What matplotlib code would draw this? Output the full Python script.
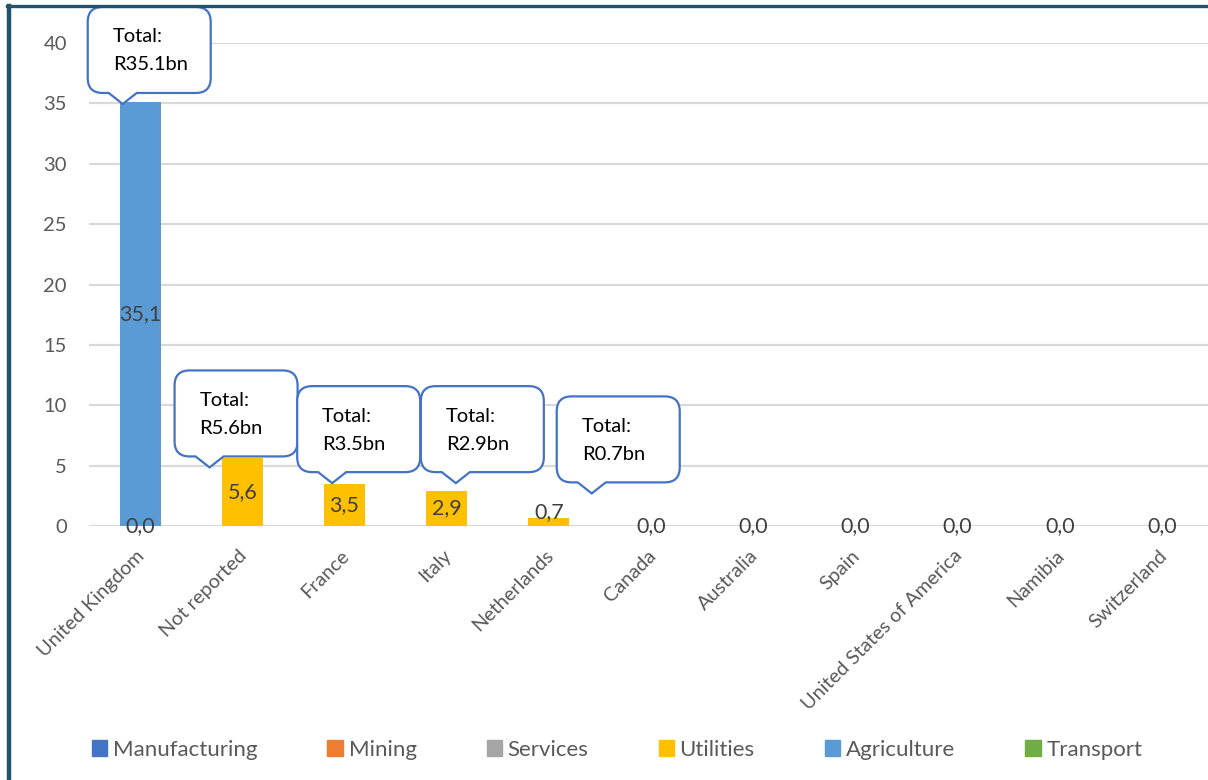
import matplotlib
matplotlib.use("Agg")
import matplotlib.pyplot as plt
import matplotlib.transforms as mtransforms
from matplotlib.path import Path
from matplotlib.patches import PathPatch, Rectangle
import numpy as np

plt.rcParams['font.family'] = ['Lato', 'DejaVu Sans']

countries = ["United Kingdom", "Not reported", "France", "Italy", "Netherlands",
             "Canada", "Australia", "Spain", "United States of America",
             "Namibia", "Switzerland"]
sectors = ["Manufacturing", "Mining", "Services", "Utilities", "Agriculture", "Transport"]
colors = ["#4472C4", "#ED7D31", "#A5A5A5", "#FFC000", "#5B9BD5", "#70AD47"]

manufacturing = [0, 0, 0, 0, 0, 0, 0, 0, 0, 0, 0]
mining = [0, 0, 0, 0, 0, 0, 0, 0, 0, 0, 0]
services = [0, 0, 0, 0, 0, 0, 0, 0, 0, 0, 0]
utilities = [0.0, 5.6, 3.5, 2.9, 0.7, 0.0, 0.0, 0.0, 0.0, 0.0, 0.0]
agriculture = [35.1, 0, 0, 0, 0, 0, 0, 0, 0, 0, 0]
transport = [0, 0, 0, 0, 0, 0, 0, 0, 0, 0, 0]

# callout totals (R bn) for the first five countries
total_idx = [0, 1, 2, 3, 4]
total_text = ["R35.1bn", "R5.6bn", "R3.5bn", "R2.9bn", "R0.7bn"]
# where each callout pointer lands, as offsets from the bar top (category units, value units)
tip_dx = [-0.17, -0.32, -0.12, 0.09, 0.42]
tip_dy = [-0.15, -0.75, 0.05, 0.65, 2.0]

series = [manufacturing, mining, services, utilities, agriculture, transport]

W, H = 1208, 780
fig = plt.figure(figsize=(W / 100, H / 100), dpi=100)
ax = fig.add_axes([89 / W, (H - 526) / H, 1124 / W, 483 / H])

x = np.arange(len(countries))
bottom = np.zeros(len(countries))
for name, vals, c in zip(sectors, series, colors):
    vals = np.array(vals, dtype=float)
    ax.bar(x, vals, 0.4, bottom=bottom, color=c, label=name, zorder=2)
    for i, v in enumerate(vals):
        if v == 0 and name != "Utilities":
            continue
        ypos = bottom[i] + v / 2
        if 0 < v < 1.5:
            ypos = bottom[i] + v + 0.45
        ax.text(i, ypos, f"{v:.1f}".replace(".", ","), ha="center", va="center",
                fontsize=15.5, color="#404040", zorder=4)
    bottom += vals

ax.set_xlim(-0.5, len(countries) - 0.5)
ax.set_ylim(0, 40)
ax.set_yticks(np.arange(0, 41, 5))
ax.yaxis.grid(True, color="#D9D9D9", linewidth=1.6, zorder=0)
ax.set_axisbelow(True)
for s in ax.spines.values():
    s.set_visible(False)
ax.tick_params(axis="y", length=0, pad=16, labelsize=14.5, labelcolor="#595959")
ax.tick_params(axis="x", length=0, pad=15, labelsize=14.3, labelcolor="#595959")
ax.set_xticks(x)
ax.set_xticklabels(countries, rotation=45, ha="right", rotation_mode="anchor")
for lbl in ax.get_xticklabels():
    lbl.set_transform(lbl.get_transform() + mtransforms.Affine2D().translate(-4, 0))

# speech-bubble callouts, drawn in pixels around the pointer tip
bw, bh, gap, left, r = 123, 86, 11, -35, 15
pb0, pb1 = -14, 14
for k, i in enumerate(total_idx):
    tx = i + tip_dx[k]
    ty = bottom[i] + tip_dy[k]
    L, R = left, left + bw
    B, T = gap, gap + bh
    verts = [(pb0, B), (L + r, B), (L, B), (L, B + r), (L, T - r), (L, T), (L + r, T),
             (R - r, T), (R, T), (R, T - r), (R, B + r), (R, B), (R - r, B),
             (pb1, B), (0, 0), (pb0, B)]
    codes = [Path.MOVETO, Path.LINETO, Path.CURVE3, Path.CURVE3, Path.LINETO,
             Path.CURVE3, Path.CURVE3, Path.LINETO, Path.CURVE3, Path.CURVE3,
             Path.LINETO, Path.CURVE3, Path.CURVE3, Path.LINETO, Path.LINETO,
             Path.CLOSEPOLY]
    trans = mtransforms.Affine2D() + mtransforms.ScaledTranslation(tx, ty, ax.transData)
    ax.add_patch(PathPatch(Path(verts, codes), transform=trans, facecolor="white",
                           edgecolor="#4472C4", linewidth=1.6, clip_on=False, zorder=5))
    ax.text(L + 25, T - 30, "Total:", transform=trans, ha="left", va="center",
            fontsize=14.5, color="#000000", zorder=6, clip_on=False)
    ax.text(L + 25, T - 58, total_text[k], transform=trans, ha="left", va="center",
            fontsize=14.5, color="#000000", zorder=6, clip_on=False)

handles = [Rectangle((0, 0), 1, 1, color=c) for c in colors]
fig.legend(handles, sectors, loc="center", bbox_to_anchor=(617 / W, 30 / H), ncol=6,
           frameon=False, fontsize=16, handlelength=0.7, handleheight=0.7,
           handletextpad=0.25, columnspacing=3.15, labelcolor="#595959")

# outer frame
frame = "#23536B"
fig.add_artist(plt.Line2D([9 / W, 9 / W], [0, 1 - 6 / H], color=frame, linewidth=3.2,
                          transform=fig.transFigure))
fig.add_artist(plt.Line2D([7 / W, 1], [1 - 6 / H, 1 - 6 / H], color=frame, linewidth=2.4,
                          transform=fig.transFigure))

fig.savefig("out.png", dpi=100)
